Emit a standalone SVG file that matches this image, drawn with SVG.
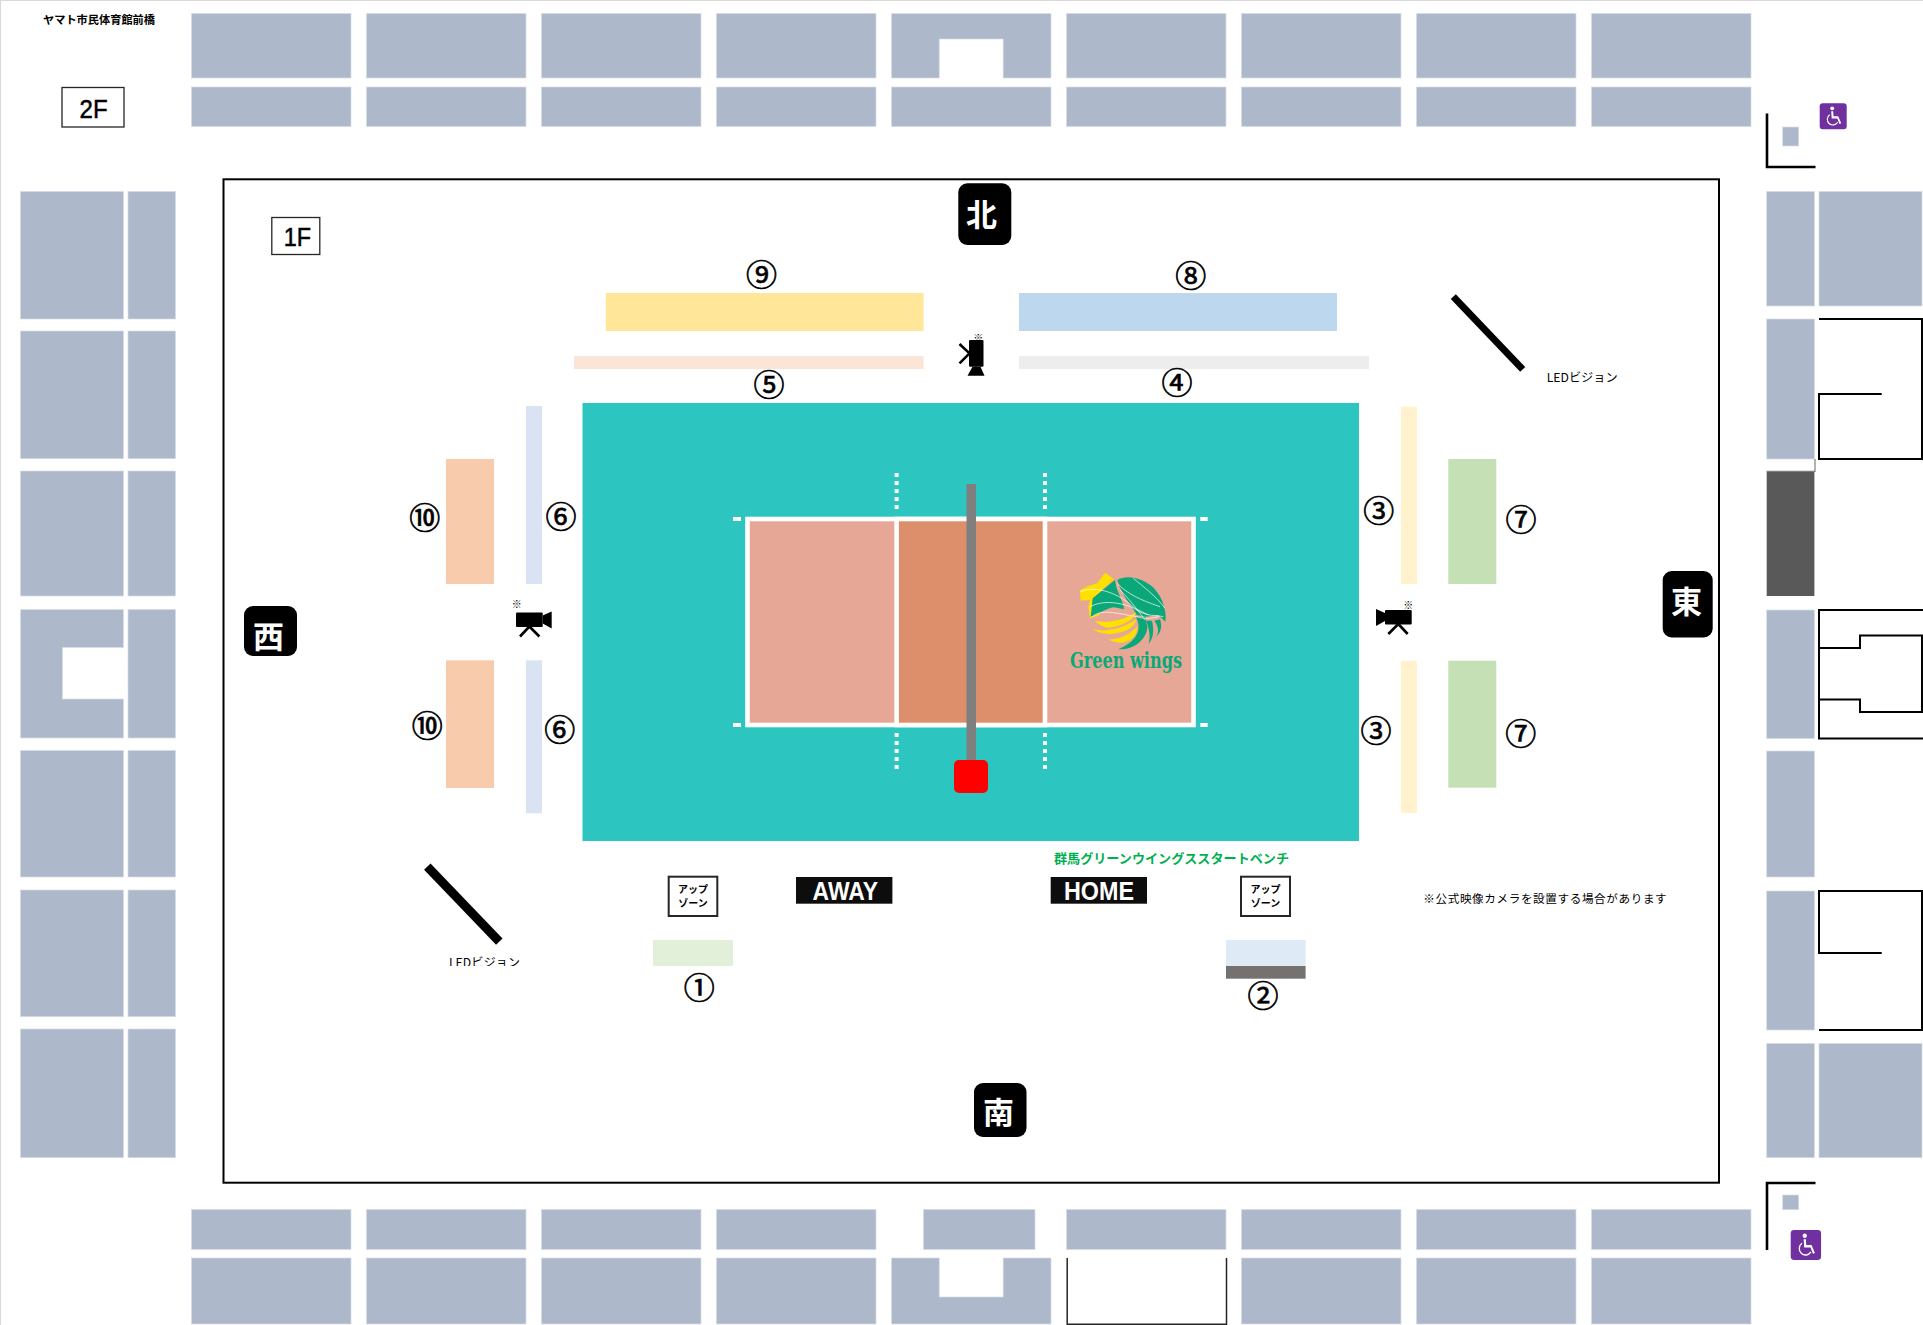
<svg xmlns="http://www.w3.org/2000/svg" xmlns:xlink="http://www.w3.org/1999/xlink" width="1923" height="1325" viewBox="0 0 1923 1325">
<style>
.s{fill:#adb9ca;stroke:#d6dce5;stroke-width:.7}
.w{fill:none;stroke:#000;stroke-width:2}
.j{font-family:"Noto Sans CJK JP","Noto Sans",sans-serif}
.c{font-family:"Noto Sans CJK JP","Noto Sans",sans-serif;font-size:31px;text-anchor:middle;fill:#000;stroke:#000;stroke-width:.7}
.b{font-family:"Noto Sans CJK JP","Noto Sans",sans-serif;font-size:31px;font-weight:700;text-anchor:middle;fill:#fff}
.bd{fill:#000}
.up{font-family:"Noto Sans CJK JP","Noto Sans",sans-serif;font-size:10px;font-weight:700;text-anchor:middle;fill:#000}
.upb{fill:#fff;stroke:#262626;stroke-width:2}
.lab{font-family:"Liberation Sans",Arial,sans-serif;font-weight:700;fill:#fff;font-size:25px}
.fl{font-family:"Liberation Sans",Arial,sans-serif;fill:#000;stroke:#000;stroke-width:.5}
.led{font-family:"Noto Sans CJK JP","Noto Sans",sans-serif;font-size:12px;fill:#000}
.ast{font-family:"Noto Sans CJK JP","Noto Sans",sans-serif;font-size:10px;text-anchor:middle;fill:#000}
</style>
<defs>
<g id="cam">
<rect x="9" y="1" width="26.7" height="14.5" rx="1"/>
<polygon points="0,0 9,4 9,12 0,17"/>
<path d="M22.3 15 L12.3 25 M22.3 15 L31.7 25" fill="none" stroke="#000" stroke-width="2.6"/>
</g>
<g id="wc">
<rect width="27" height="26" rx="3" fill="#7030a0"/>
<circle cx="12.5" cy="5" r="1.9" fill="#fff"/>
<path d="M11.5 8 L13.5 8 L13.8 13 L18.5 13 L21.5 20 L19.8 20.6 L17.6 15.2 L12 15.2 Z" fill="#fff"/>
<path d="M10 11.5 A5.6 5.6 0 1 0 18 19" fill="none" stroke="#fff" stroke-width="1.2"/>
</g>
<clipPath id="ledclip"><rect x="440" y="950" width="90" height="16"/></clipPath>
</defs>
<rect width="1923" height="1325" fill="#fff"/>
<path d="M0.5 1325V0.5H1923" fill="none" stroke="#d9d9d9" stroke-width="1.2"/>

<g id="seats-north">
<rect class="s" x="191.5" y="13.5" width="159.5" height="64.5"/><rect class="s" x="366.5" y="13.5" width="159.5" height="64.5"/><rect class="s" x="541.5" y="13.5" width="159.5" height="64.5"/><rect class="s" x="716.5" y="13.5" width="159.5" height="64.5"/>
<path class="s" d="M891.5 13.5H1051V78H1003.2V39H939.3V78H891.5Z"/>
<rect class="s" x="1066.5" y="13.5" width="159.5" height="64.5"/><rect class="s" x="1241.5" y="13.5" width="159.5" height="64.5"/><rect class="s" x="1416.5" y="13.5" width="159.5" height="64.5"/><rect class="s" x="1591.5" y="13.5" width="159.5" height="64.5"/>
<rect class="s" x="191.5" y="87" width="159.5" height="39.5"/><rect class="s" x="366.5" y="87" width="159.5" height="39.5"/><rect class="s" x="541.5" y="87" width="159.5" height="39.5"/><rect class="s" x="716.5" y="87" width="159.5" height="39.5"/><rect class="s" x="891.5" y="87" width="159.5" height="39.5"/><rect class="s" x="1066.5" y="87" width="159.5" height="39.5"/><rect class="s" x="1241.5" y="87" width="159.5" height="39.5"/><rect class="s" x="1416.5" y="87" width="159.5" height="39.5"/><rect class="s" x="1591.5" y="87" width="159.5" height="39.5"/>
</g>
<g id="seats-south">
<rect class="s" x="191.5" y="1209.5" width="159.5" height="40"/><rect class="s" x="366.5" y="1209.5" width="159.5" height="40"/><rect class="s" x="541.5" y="1209.5" width="159.5" height="40"/><rect class="s" x="716.5" y="1209.5" width="159.5" height="40"/><rect class="s" x="923.5" y="1209.5" width="111.5" height="40"/><rect class="s" x="1066.5" y="1209.5" width="159.5" height="40"/><rect class="s" x="1241.5" y="1209.5" width="159.5" height="40"/><rect class="s" x="1416.5" y="1209.5" width="159.5" height="40"/><rect class="s" x="1591.5" y="1209.5" width="159.5" height="40"/>
<rect class="s" x="191.5" y="1258" width="159.5" height="66"/><rect class="s" x="366.5" y="1258" width="159.5" height="66"/><rect class="s" x="541.5" y="1258" width="159.5" height="66"/><rect class="s" x="716.5" y="1258" width="159.5" height="66"/>
<path class="s" d="M891.5 1258H939.3V1297H1003.2V1258H1051V1324H891.5Z"/>
<path d="M1067.2 1258V1324.3H1226.5V1258" fill="none" stroke="#262626" stroke-width="1.5"/>
<rect class="s" x="1241.5" y="1258" width="159.5" height="66"/><rect class="s" x="1416.5" y="1258" width="159.5" height="66"/><rect class="s" x="1591.5" y="1258" width="159.5" height="66"/>
</g>
<g id="seats-west">
<rect class="s" x="20.5" y="191.5" width="103" height="127.5"/><rect class="s" x="128" y="191.5" width="47.5" height="127.5"/>
<rect class="s" x="20.5" y="331" width="103" height="127.7"/><rect class="s" x="128" y="331" width="47.5" height="127.7"/>
<rect class="s" x="20.5" y="471" width="103" height="125"/><rect class="s" x="128" y="471" width="47.5" height="125"/>
<path class="s" d="M20.5 609.5H123.5V647.5H62.5V699H123.5V738H20.5Z"/><rect class="s" x="128" y="609.5" width="47.5" height="128.5"/>
<rect class="s" x="20.5" y="750.5" width="103" height="126.5"/><rect class="s" x="128" y="750.5" width="47.5" height="126.5"/>
<rect class="s" x="20.5" y="890" width="103" height="126.7"/><rect class="s" x="128" y="890" width="47.5" height="126.7"/>
<rect class="s" x="20.5" y="1029" width="103" height="128.7"/><rect class="s" x="128" y="1029" width="47.5" height="128.7"/>
</g>
<g id="seats-east">
<rect class="s" x="1766.7" y="191.5" width="47.7" height="114.5"/><rect class="s" x="1819" y="191.5" width="103" height="114.5"/>
<rect class="s" x="1766.7" y="319" width="47.7" height="140"/>
<rect x="1766.7" y="471.5" width="47.7" height="124.5" fill="#595959"/>
<path d="M1766.7 471.3H1815V459" fill="none" stroke="#7f7f7f" stroke-width="1.2"/>
<rect class="s" x="1766.7" y="610" width="47.7" height="128.5"/>
<rect class="s" x="1766.7" y="751" width="47.7" height="126"/>
<rect class="s" x="1766.7" y="891" width="47.7" height="139"/>
<rect class="s" x="1766.7" y="1043.5" width="47.7" height="114.2"/><rect class="s" x="1819" y="1043.5" width="103" height="114.2"/>
<path class="w" d="M1819 319H1922V459H1819V394H1881.7"/>
<path class="w" d="M1923 610H1819V738.5H1923M1819 648H1860V635.5H1922V712H1860V699.5H1819"/>
<path class="w" d="M1881.7 953H1819V891H1922V1030H1819"/>
</g>
<g id="corner-ne">
<path d="M1767 113.5V167H1815.5" fill="none" stroke="#000" stroke-width="2.6"/>
<rect class="s" x="1782.7" y="127" width="16" height="19"/>
<use xlink:href="#wc" href="#wc" x="1819.7" y="103.3"/>
</g>
<g id="corner-se">
<path d="M1815.5 1183H1767V1250" fill="none" stroke="#000" stroke-width="2.6"/>
<rect class="s" x="1782.7" y="1195" width="16" height="14.7"/>
<use xlink:href="#wc" href="#wc" transform="translate(1790.7 1230) scale(1.125 1.154)"/>
</g>

<rect id="floor" x="223.5" y="179.3" width="1495.5" height="1003.4" fill="#fff" stroke="#000" stroke-width="2"/>

<g id="court">
<rect x="582.5" y="403" width="776.5" height="438" fill="#2cc5bf"/>
<rect x="747.5" y="519" width="446" height="206" fill="#e6a796" stroke="#fff" stroke-width="4.6"/>
<rect x="896.6" y="519" width="148.4" height="206" fill="#dd8f6b" stroke="#fff" stroke-width="4.6"/>
<path d="M733 519H741M1200.3 519H1207.7M733 725H741M1200.3 725H1207.7" stroke="#fff" stroke-width="4"/>
<path d="M896.6 473V513M1045 473V513M896.6 733V772M1045 733V772" stroke="#fff" stroke-width="4" stroke-dasharray="4 4"/>
<rect x="966.5" y="484" width="9.5" height="277" fill="#7f7f7f"/>
<rect x="954" y="760" width="34" height="33" rx="5" fill="#f00"/>
</g>
<g id="logo">
<g transform="translate(1020 500) scale(.33333)">
<path fill="#ffe100" d="M255 218L282 238L245 270L230 300L240 345L210 355L205 320L210 300L182 302L180 270L205 258L232 250Z"/>
<path fill="#ffe100" d="M225 362C265 372 320 358 348 335C345 360 300 380 265 383C250 382 235 372 225 362Z"/>
<path fill="#ffe100" d="M218 388C260 398 310 385 348 358C345 385 310 400 270 402C250 402 230 396 218 388Z"/>
<path fill="#ffe100" d="M265 418C300 420 335 400 352 378C352 405 335 425 305 428C290 428 275 425 265 418Z"/>
<path fill="#0aa878" d="M285 240L218 295L212 350C235 345 255 325 282 322L312 328C312 305 290 280 285 240Z"/>
<path fill="#0aa878" d="M292 240C322 222 372 235 402 265C430 295 440 335 436 365L415 345L378 350L350 345C340 320 305 290 292 240Z"/>
<path fill="#0aa878" d="M348 352C368 390 350 425 295 448C340 450 380 420 382 380L375 350Z"/>
<path fill="#0aa878" d="M378 362C392 395 390 420 385 432C402 415 402 385 396 362Z"/>
<path fill="#0aa878" d="M403 362C420 385 415 405 405 412C426 400 426 375 420 358Z"/>
<path fill="none" stroke="#fff" stroke-width="2" d="M182 275C230 255 300 280 350 330C380 350 410 345 430 350M210 320C270 290 340 320 385 345M340 235C370 260 410 290 435 325M292 250C320 280 360 300 420 320M215 352C240 325 290 340 350 350C375 358 395 355 415 350M300 270C340 310 360 340 375 360"/>
</g>
<text x="1126" y="668" font-family="'DejaVu Serif','Liberation Serif',serif" font-weight="700" font-size="22" fill="#0aa878" text-anchor="middle" textLength="112" lengthAdjust="spacingAndGlyphs">Green wings</text>
</g>

<g id="stands">
<rect x="605.8" y="293" width="317.8" height="38" fill="#ffe699"/>
<rect x="1019" y="293" width="318" height="38" fill="#bdd7ee"/>
<rect x="574" y="356" width="349.6" height="13" fill="#fbe5d6"/>
<rect x="1019" y="356" width="350" height="13" fill="#ededed"/>
<rect x="1401" y="406.7" width="16" height="177.3" fill="#fff2cc"/>
<rect x="1401" y="660.7" width="16" height="152.3" fill="#fff2cc"/>
<rect x="1448.3" y="459" width="48" height="125" fill="#c5e0b4"/>
<rect x="1448.3" y="660.7" width="48" height="127" fill="#c5e0b4"/>
<rect x="526" y="406" width="16" height="178" fill="#dae3f3"/>
<rect x="526" y="660.3" width="16" height="153" fill="#dae3f3"/>
<rect x="446" y="459" width="48" height="125" fill="#f8cbad"/>
<rect x="446" y="660.3" width="48" height="127.7" fill="#f8cbad"/>
<rect x="653" y="940" width="80" height="26" fill="#e2f0d9"/>
<rect x="1226" y="940" width="79.6" height="26" fill="#deebf7"/>
<rect x="1226" y="966" width="79.6" height="12.7" fill="#767171"/>
</g>
<g id="numbers">
<text class="c" x="761.6" y="285.5">⑨</text>
<text class="c" x="1190.8" y="286.5">⑧</text>
<text class="c" x="769" y="396">⑤</text>
<text class="c" x="1177" y="393.5">④</text>
<text class="c" x="1378.7" y="521.5">③</text>
<text class="c" x="1376" y="741.5">③</text>
<text class="c" x="1521" y="531">⑦</text>
<text class="c" x="1520.7" y="744.5">⑦</text>
<text class="c" x="561" y="528">⑥</text>
<text class="c" x="559.7" y="740.5">⑥</text>
<text class="c" x="424.7" y="528.5">⑩</text>
<text class="c" x="427.3" y="737">⑩</text>
<text class="c" x="699.3" y="999">①</text>
<text class="c" x="1263" y="1006.5">②</text>
</g>
<g id="dir-north"><rect class="bd" x="958.3" y="183.3" width="53" height="61.7" rx="9"/><text class="b" x="981.5" y="225.5">北</text></g>
<g id="dir-east"><rect class="bd" x="1662.7" y="571" width="50" height="66.5" rx="9"/><text class="b" x="1686.5" y="612.5">東</text></g>
<g id="dir-west"><rect class="bd" x="244" y="606" width="53" height="50" rx="9"/><text class="b" x="268.5" y="648">西</text></g>
<g id="dir-south"><rect class="bd" x="974" y="1083" width="52.5" height="54" rx="9"/><text class="b" x="998.5" y="1124">南</text></g>

<g id="camera-north"><use xlink:href="#cam" href="#cam" transform="matrix(0 -1 -1 0 984.5 375.7)"/><text class="ast" x="978.3" y="341.5">※</text></g>
<g id="camera-east"><use xlink:href="#cam" href="#cam" transform="translate(1376 609)"/><text class="ast" x="1408.3" y="608.5">※</text></g>
<g id="camera-west"><use xlink:href="#cam" href="#cam" transform="translate(551.7 611.5) scale(-1 1)"/><text class="ast" x="516.7" y="608">※</text></g>

<g id="led-east"><path d="M1453.3 296.7L1522.7 369.3" stroke="#000" stroke-width="7"/><text class="led" x="1546.7" y="382" textLength="71" lengthAdjust="spacingAndGlyphs">LEDビジョン</text></g>
<g id="led-west"><path d="M427.3 866.7L499.3 941.7" stroke="#000" stroke-width="9"/><text class="led" x="449" y="967" textLength="71" lengthAdjust="spacingAndGlyphs" clip-path="url(#ledclip)">LEDビジョン</text></g>

<g id="up-west"><rect class="upb" x="668.7" y="876.7" width="48.6" height="39.3"/><text class="up" x="693" y="893">アップ</text><text class="up" x="693" y="907">ゾーン</text></g>
<g id="up-east"><rect class="upb" x="1241" y="876.7" width="49" height="39.3"/><text class="up" x="1265.5" y="893">アップ</text><text class="up" x="1265.5" y="907">ゾーン</text></g>
<g id="away"><rect x="796" y="877" width="96.4" height="26.7" fill="#0d0d0d"/><text class="lab" x="812.6" y="900" textLength="65.4" lengthAdjust="spacingAndGlyphs">AWAY</text></g>
<g id="home"><rect x="1050.7" y="877" width="96.3" height="26.7" fill="#0d0d0d"/><text class="lab" x="1064" y="900" textLength="70" lengthAdjust="spacingAndGlyphs">HOME</text></g>
<text id="bench" class="j" x="1054" y="862.5" font-size="13" font-weight="700" fill="#00b050" textLength="235" lengthAdjust="spacingAndGlyphs">群馬グリーンウイングススタートベンチ</text>
<text id="note" class="j" x="1423.3" y="903" font-size="11.6" fill="#000" textLength="243.4">※公式映像カメラを設置する場合があります</text>
<text id="title" class="j" x="43" y="24" font-size="11.2" font-weight="700" fill="#000" textLength="112">ヤマト市民体育館前橋</text>
<g id="label-2f"><rect x="62" y="87.5" width="62" height="39.5" fill="#fff" stroke="#262626" stroke-width="1.3"/><text class="fl" x="79.6" y="118" font-size="26" textLength="28" lengthAdjust="spacingAndGlyphs">2F</text></g>
<g id="label-1f"><rect x="271.8" y="217.5" width="48" height="37" fill="#fff" stroke="#262626" stroke-width="1.3"/><text class="fl" x="283.7" y="246" font-size="25" textLength="27.3" lengthAdjust="spacingAndGlyphs">1F</text></g>
</svg>
